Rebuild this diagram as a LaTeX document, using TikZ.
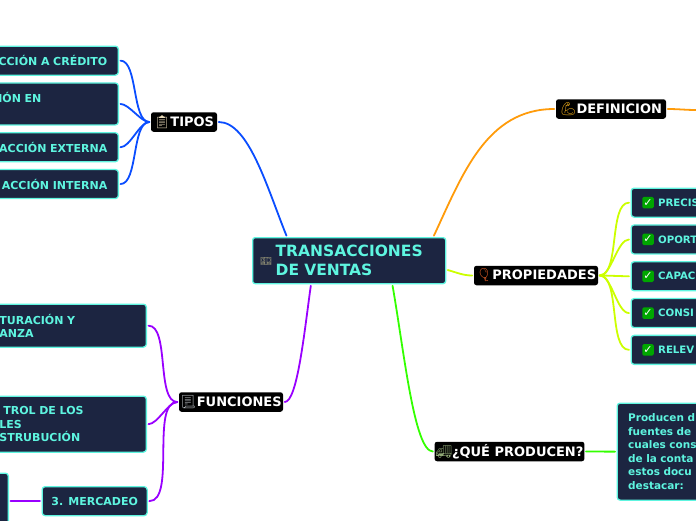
\documentclass[tikz,border=0pt]{standalone}
\usepackage{fontspec}
\setmainfont{DejaVu Sans}
\newfontfamily\emojifont{Noto Emoji}
\usetikzlibrary{positioning}
\definecolor{boxfill}{HTML}{1C2541}
\definecolor{boxline}{HTML}{5EF5E0}
\definecolor{tiposblue}{HTML}{0A4DFF}
\definecolor{funcpurple}{HTML}{9900FF}
\definecolor{deforange}{HTML}{FF9B0A}
\definecolor{propyellow}{HTML}{CCFF00}
\definecolor{prodgreen}{HTML}{33FF00}
\newcommand{\icon}[2]{{\emojifont\color[HTML]{#1}#2}}

\begin{document}
\begin{tikzpicture}[
    x=1pt, y=-1pt,
    rootblock/.style={rectangle, draw=boxline, fill=boxfill, line width=1.3pt, rounded corners=2.5pt, minimum width=193pt, minimum height=46pt, align=left, font=\fontsize{15.5}{19}\selectfont\bfseries, text=boxline, inner sep=0pt},
    branchblock/.style={rectangle, fill=black, rounded corners=2.5pt, minimum height=19.5pt, inner xsep=1pt, inner ysep=0pt, font=\fontsize{13}{14}\selectfont\bfseries, text=white},
    leafblock/.style={rectangle, draw=boxline, fill=boxfill, line width=1.3pt, rounded corners=3pt, minimum height=29pt, inner ysep=0pt, font=\fontsize{11}{13.5}\selectfont\bfseries, text=boxline},
    tipoleaf/.style={leafblock, anchor=north east, inner xsep=11pt, text width=109pt, align=right},
    funcleaf/.style={leafblock, anchor=north east, inner xsep=11pt, text width=136pt, align=left},
    propleaf/.style={leafblock, anchor=north west, inner xsep=27pt, text width=80pt, align=left, font=\fontsize{10.2}{13.5}\selectfont\bfseries},
    chkicon/.style={rectangle, fill=green!65!black, rounded corners=1.5pt, minimum size=11.5pt, inner sep=0pt, text=white, font=\fontsize{11}{11}\selectfont\bfseries},
    conn/.style={line width=1.8pt, color=#1, shorten <=1.5pt, shorten >=1.5pt, line cap=round}
]
\useasboundingbox (0,0) rectangle (696,520);
\clip (0,0) rectangle (696,520);

% Central topic
\node[rootblock, text width=147pt, inner xsep=23pt, anchor=north west] (root) at (252,237) {TRANSACCIONES\\DE VENTAS};
\node[inner sep=0pt, font=\fontsize{9}{9}\selectfont] (rooticon) at (266,261) {\icon{C9C38E}{💵}};

% Main branches
\node[branchblock, minimum width=66pt]  (tipos)  at (184,122)   {\icon{E8D9B8}{📋}TIPOS};
\node[branchblock, minimum width=104pt] (func)   at (231,402)   {\icon{C8CDD2}{📃}FUNCIONES};
\node[branchblock, minimum width=110pt] (defin)  at (611,109)   {\icon{F5B21E}{💪}DEFINICION};
\node[branchblock, minimum width=124pt] (prop)   at (536,275.5) {\icon{F0642A}{🎈}PROPIEDADES};
\node[branchblock, minimum width=149pt] (prod)   at (509.5,451.5) {\icon{8FA876}{🚚}¿QUÉ PRODUCEN?};
\coordinate (defout) at (698,110);

% Tipos sub-blocks
\node[tipoleaf] (t1) at (119,45.5) {CCIÓN A CRÉDITO};
\node[tipoleaf, below=6.5pt of t1, minimum height=42pt, align=left] (t2) {IÓN EN\\\mbox{}};
\node[tipoleaf, below=6.5pt of t2] (t3) {ACCIÓN EXTERNA};
\node[tipoleaf, below=6.5pt of t3] (t4) {ACCIÓN INTERNA};

% Funciones sub-blocks
\node[funcleaf, minimum height=43pt] (f1) at (147,303.5) {TURACIÓN Y\\ANZA};
\node[funcleaf, minimum height=56pt] (f2) at (147,395.5) {\hspace*{4pt}TROL DE LOS\\LES\\STRUBUCIÓN};
\node[leafblock, anchor=north west, minimum width=105pt] (f3) at (41.5,486) {3. MERCADEO};
\node[leafblock, anchor=north east, minimum width=20pt, minimum height=60pt] (f4) at (9,472.5) {};

% Propiedades sub-blocks
\node[propleaf] (p1) at (630.5,187.5) {PRECIS};
\node[propleaf, below=6.5pt of p1] (p2) {OPORT};
\node[propleaf, below=6.5pt of p2] (p3) {CAPAC};
\node[propleaf, below=6.5pt of p3] (p4) {CONSI};
\node[propleaf, below=6.5pt of p4] (p5) {RELEV};
\node[chkicon] (c1) at ([xshift=17.5pt]p1.west) {✓};
\node[chkicon] (c2) at ([xshift=17.5pt]p2.west) {✓};
\node[chkicon] (c3) at ([xshift=17.5pt]p3.west) {✓};
\node[chkicon] (c4) at ([xshift=17.5pt]p4.west) {✓};
\node[chkicon] (c5) at ([xshift=17.5pt]p5.west) {✓};

% Producen text
\node[leafblock, anchor=north west, minimum height=97pt, inner xsep=11pt, text width=100pt, align=left, font=\fontsize{10.5}{13.5}\selectfont\bfseries] (q1) at (616.5,402.5) {Producen d\\fuentes de\\cuales cons\\de la conta\\estos docu\\destacar:};

% Connectors
\draw[conn=tiposblue] ([xshift=35pt]root.north west) to[out=112,in=0,in looseness=.6] (tipos.east);
\draw[conn=funcpurple] ([xshift=59pt]root.south west) to[out=262,in=0,in looseness=.3] (func.east);
\draw[conn=deforange] ([xshift=-13pt]root.north east) to[out=65,in=180] (defin.west);
\draw[conn=deforange] (defin.east) to[out=0,in=180] (defout);
\draw[conn=propyellow] ([yshift=-9pt]root.east) to[out=-15,in=180] (prop.west);
\draw[conn=prodgreen] ([xshift=-54pt]root.south east) to[out=-80,in=180,in looseness=.3] (prod.west);
\draw[conn=prodgreen] (prod.east) -- (q1.west);
\foreach \t in {t1,t2,t3,t4} \draw[conn=tiposblue] (tipos.west) to[out=180,in=0,looseness=.7] (\t.east);
\foreach \f in {f1,f2,f3} \draw[conn=funcpurple] (func.west) to[out=180,in=0,looseness=.7] (\f.east);
\draw[conn=funcpurple] (f3.west) -- (f4.east |- f3.west);
\foreach \p in {p1,p2,p3,p4,p5} \draw[conn=propyellow] (prop.east) to[out=0,in=180,looseness=.7] (\p.west);
\end{tikzpicture}
\end{document}
